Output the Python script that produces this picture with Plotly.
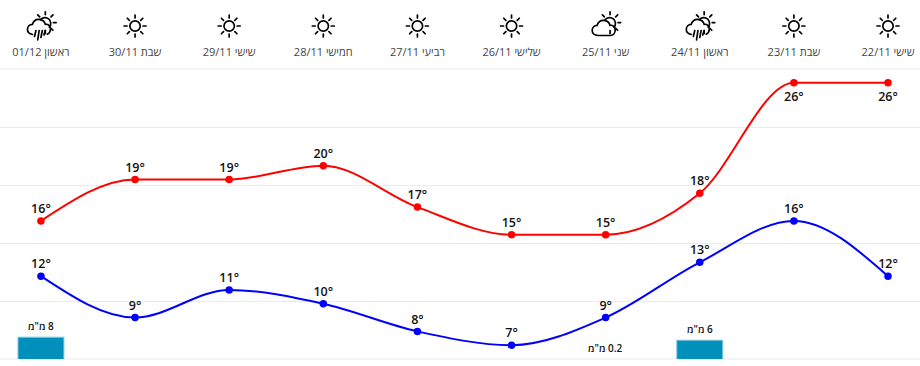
import base64
import math
import plotly.graph_objects as go

days = ["שישי", "שבת", "ראשון", "שני", "שלישי", "רביעי", "חמישי", "שישי", "שבת", "ראשון"]
dates = ["22/11", "23/11", "24/11", "25/11", "26/11", "27/11", "28/11", "29/11", "30/11", "01/12"]
high = [26, 26, 18, 15, 15, 17, 20, 19, 19, 16]
low = [12, 16, 13, 9, 7, 8, 10, 11, 9, 12]
rain = [None, None, 6, 0.2, None, None, None, None, None, 8]
icons = ["sun", "sun", "rain", "cloud", "sun", "sun", "sun", "sun", "sun", "rain"]
high_pos = ["bottom center", "bottom center"] + ["top center"] * 8
low_pos = ["top center"] * 10
high_gap = [13, 13] + [6] * 8
low_gap = [6] * 10
grid_inner = [10.2, 14.4, 18.6, 22.8]

labels = [f"{d} {t}" for d, t in zip(days, dates)]
idx = list(range(len(labels)))


def monotone_path(values):
    """Monotone cubic curve through the values, as an SVG path in axis coordinates."""
    s = [b - a for a, b in zip(values, values[1:])]
    sign = lambda v: (v > 0) - (v < 0)
    t = [0.0] * len(values)
    for i in range(1, len(values) - 1):
        t[i] = (sign(s[i - 1]) + sign(s[i])) * min(abs(s[i - 1]), abs(s[i]), 0.5 * abs(s[i - 1] + s[i]) / 2)
    t[0] = (3 * s[0] - t[1]) / 2
    t[-1] = (3 * s[-1] - t[-2]) / 2
    path = f"M{idx[0]},{values[0]}"
    for i in range(len(s)):
        path += (f" C{idx[i] + 1 / 3},{values[i] + t[i] / 3}"
                 f" {idx[i + 1] - 1 / 3},{values[i + 1] - t[i + 1] / 3}"
                 f" {idx[i + 1]},{values[i + 1]}")
    return path


def rays(cx, cy, r1, r2, angles):
    out = ""
    for a in angles:
        c, s = math.cos(math.radians(a)), math.sin(math.radians(a))
        out += f'<line x1="{cx + r1 * c:.2f}" y1="{cy + r1 * s:.2f}" x2="{cx + r2 * c:.2f}" y2="{cy + r2 * s:.2f}"/>'
    return out


def svg_icon(kind):
    common = 'xmlns="http://www.w3.org/2000/svg" width="64" height="64" viewBox="0 0 32 32"'
    style = 'fill="none" stroke="#000" stroke-width="1.7" stroke-linecap="round"'
    if kind == "sun":
        body = '<circle cx="16" cy="16" r="5.2"/>' + rays(16, 16, 8, 11, range(0, 360, 45))
    else:
        arc = '<path d="M15.5 9.6 A5.6 5.6 0 0 1 24.4 17.2"/>'
        sun = arc + rays(20.4, 12.6, 8, 10.8, [-135, -90, -45, 0, 45, 90])
        drops = ""
        if kind == "rain":
            cloud = '<path d="M7.6 24.5 C4.2 24 2.5 21.8 2.5 19.3 C2.5 16.5 4.8 14.3 7.4 14.4 C8.4 11.1 11.2 9.1 14.2 9.3 C17.2 9.5 19.6 11.5 20.4 14.3 C23.2 13.9 25.6 16 25.6 19.1 C25.6 21.6 24.2 23.4 22.4 24.2"/>'
            drops = "".join(
                f'<line x1="{x}" y1="{y1}" x2="{x - 1.4}" y2="{y2}"/>'
                for x, y1, y2 in [(11, 20.5, 26.5), (14.2, 20.5, 30), (17.4, 20.5, 27.5), (20.4, 20.5, 25)]
            )
        else:
            cloud = '<path d="M8.5 25.5 C4.5 25.5 2.5 23 2.5 20.3 C2.5 17.5 4.8 15.3 7.4 15.4 C8.4 12.1 11.2 10.1 14.2 10.3 C17.2 10.5 19.6 12.5 20.4 15.3 C23.2 14.9 25.6 17 25.6 20.1 C25.6 23.3 23.4 25.5 20.8 25.5 Z"/>'
        body = sun + cloud + drops
    svg = f'<svg {common}><g {style}>{body}</g></svg>'
    return "data:image/svg+xml;base64," + base64.b64encode(svg.encode()).decode()


fig = go.Figure()

fig.add_trace(go.Bar(
    x=idx, y=rain, yaxis="y2", width=0.488,
    marker=dict(color="#0090BB", line=dict(color="#7FC7DE", width=1)),
))
shapes = [dict(type="line", xref="paper", yref="paper", x0=0, x1=1, y0=edge, y1=edge,
               line=dict(color="#EBEBEB", width=1), layer="below") for edge in (0, 1)]
for values, color, pos, gap in [(high, "#FF0000", high_pos, high_gap), (low, "#0000FF", low_pos, low_gap)]:
    fig.add_trace(go.Scatter(x=idx, y=values, mode="markers", marker=dict(color=color, size=7.5)))
    fig.add_trace(go.Scatter(
        x=idx, y=values, mode="markers+text",
        marker=dict(size=gap, opacity=0),
        text=[f"{v}°" for v in values], textposition=pos,
        textfont=dict(family="Open Sans", size=12.5, color="#111", weight=600),
        cliponaxis=False,
    ))
    shapes.append(dict(type="path", path=monotone_path(values), xref="x", yref="y",
                       line=dict(color=color, width=2), layer="between"))

annotations = []
for i, v in zip(idx, rain):
    if v is None:
        continue
    annotations.append(dict(
        x=i, y=max(math.log10(v), 0), xref="x", yref="y2", yanchor="bottom", yshift=2,
        text=f'מ"מ\u200e {v}', showarrow=False,
        font=dict(family="Open Sans", size=10, color="#111", weight=600),
    ))

images = [dict(
    source=svg_icon(k), xref="x", yref="paper", x=i, y=(359 - 26) / 290,
    sizex=32 / 94.2, sizey=32 / 290, xanchor="center", yanchor="middle", layer="above",
) for i, k in zip(idx, icons)]

fig.update_layout(
    width=920, height=366, margin=dict(l=0, r=0, t=69, b=7),
    paper_bgcolor="white", plot_bgcolor="white", showlegend=False, hovermode=False,
    xaxis=dict(
        range=[9.435, -0.34], side="top", tickmode="array", tickvals=idx, ticktext=labels,
        tickfont=dict(family="Open Sans", size=11, color="#444"), ticks="", showgrid=False,
        zeroline=False, showline=False, ticklabelstandoff=10,
    ),
    yaxis=dict(
        range=[6, 27], tickmode="array", tickvals=grid_inner, showticklabels=False, ticks="",
        gridcolor="#EBEBEB", gridwidth=1, zeroline=False, showline=False,
    ),
    yaxis2=dict(
        type="log", range=[0, 12.0], overlaying="y", side="right", showgrid=False,
        showticklabels=False, ticks="", zeroline=False, showline=False,
    ),
    annotations=annotations, images=images, shapes=shapes,
)

fig.write_html("out.html", config={"displayModeBar": False},
               post_script="document.body.style.margin='0';document.body.style.overflow='hidden';")
